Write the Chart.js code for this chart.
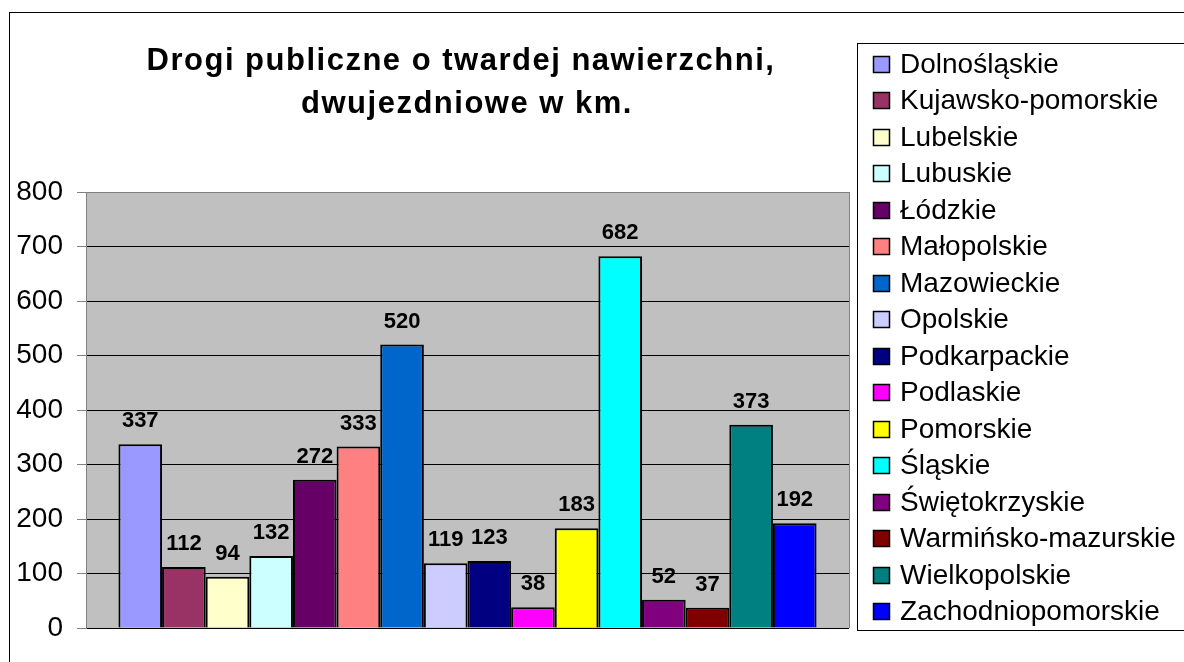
<!DOCTYPE html>
<html>
<head>
<meta charset="utf-8">
<script src="https://cdn.jsdelivr.net/npm/chart.js@4.4.0/dist/chart.umd.min.js"></script>
<style>
  html, body { margin: 0; padding: 0; background: #fff; overflow: hidden; }
  #wrap { position: absolute; left: 0; top: 0; width: 1184px; height: 662px; }
</style>
</head>
<body>
<div id="wrap"><canvas id="chart" width="1184" height="662"></canvas></div>
<script>
// dane z wykresu
const titleLines = ['Drogi publiczne o twardej nawierzchni,', 'dwujezdniowe w km.'];
const regions = ['Dolnośląskie', 'Kujawsko-pomorskie', 'Lubelskie', 'Lubuskie', 'Łódzkie', 'Małopolskie',
  'Mazowieckie', 'Opolskie', 'Podkarpackie', 'Podlaskie', 'Pomorskie', 'Śląskie', 'Świętokrzyskie',
  'Warmińsko-mazurskie', 'Wielkopolskie', 'Zachodniopomorskie'];
const values = [337, 112, 94, 132, 272, 333, 520, 119, 123, 38, 183, 682, 52, 37, 373, 192];
const colors = ['#9999FF', '#993366', '#FFFFCC', '#CCFFFF', '#660066', '#FF8080', '#0066CC', '#CCCCFF',
  '#000080', '#FF00FF', '#FFFF00', '#00FFFF', '#800080', '#800000', '#008080', '#0000FF'];
const yMin = 0, yMax = 800, yStep = 100;

const FONT = "'Liberation Sans', Arial, sans-serif";

// tło obszaru wykresu + ramki
const frame = {
  id: 'frame',
  beforeDraw(chart) {
    const {ctx, chartArea: a} = chart;
    ctx.save();
    ctx.fillStyle = '#C0C0C0';
    ctx.fillRect(a.left, a.top, a.right - a.left, a.bottom - a.top);
    ctx.restore();
  },
  afterDraw(chart) {
    const {ctx, chartArea: a} = chart;
    ctx.save();
    // prawa krawędź obszaru wykresu
    ctx.strokeStyle = '#808080';
    ctx.lineWidth = 1;
    ctx.beginPath();
    ctx.moveTo(Math.round(a.right) + 0.5, a.top);
    ctx.lineTo(Math.round(a.right) + 0.5, a.bottom);
    ctx.stroke();
    // ramka całego wykresu
    ctx.strokeStyle = '#000';
    ctx.strokeRect(9.5, 12.5, 1300, 800);

    // tytuł
    ctx.fillStyle = '#000';
    ctx.font = 'bold 31px ' + FONT;
    ctx.letterSpacing = '1.5px';
    ctx.textAlign = 'center';
    ctx.textBaseline = 'alphabetic';
    ctx.fillText(titleLines[0], 461, 70);
    ctx.fillText(titleLines[1], 467, 113);
    ctx.letterSpacing = '0px';

    // legenda
    ctx.strokeStyle = '#000';
    ctx.strokeRect(857.5, 43.5, 400, 587);
    ctx.font = '28px ' + FONT;
    ctx.textAlign = 'left';
    chart.data.datasets.forEach((ds, i) => {
      const base = 73 + i * 36.47;
      const sy = Math.round(base - 16);
      ctx.fillStyle = ds.backgroundColor;
      ctx.fillRect(874, sy, 15, 15);
      ctx.strokeStyle = '#000';
      ctx.lineWidth = 1.5;
      ctx.strokeRect(873.5, sy - 0.5, 16, 16);
      ctx.fillStyle = '#000';
      ctx.fillText(ds.label, 900, base);
    });
    ctx.restore();
  },
  afterDatasetsDraw(chart) {
    // etykiety wartości nad słupkami
    const ctx = chart.ctx;
    ctx.save();
    ctx.fillStyle = '#000';
    ctx.font = 'bold 22px ' + FONT;
    ctx.textAlign = 'center';
    ctx.textBaseline = 'middle';
    chart.data.datasets.forEach((ds, i) => {
      const el = chart.getDatasetMeta(i).data[0];
      ctx.fillText(String(ds.data[0]), el.x, el.y - 23);
    });
    ctx.restore();
  }
};

new Chart(document.getElementById('chart'), {
  type: 'bar',
  data: {
    labels: [''],
    datasets: regions.map((r, i) => ({
      label: r,
      data: [values[i]],
      backgroundColor: colors[i],
      borderColor: '#000',
      borderWidth: 2,
      borderSkipped: 'bottom',
      barPercentage: 1,
      categoryPercentage: 0.915
    }))
  },
  options: {
    responsive: false,
    animation: false,
    devicePixelRatio: 1,
    layout: { padding: { left: 0, top: 192, right: 335, bottom: 34 } },
    plugins: {
      legend: { display: false },
      title: { display: false },
      tooltip: { enabled: false }
    },
    scales: {
      x: { display: false },
      y: {
        min: yMin,
        max: yMax,
        afterFit: (scale) => { scale.width = 86; },
        ticks: {
          stepSize: yStep,
          color: '#000',
          padding: 14,
          font: { family: FONT, size: 28 }
        },
        grid: {
          color: (c) => (c.tick && c.tick.value === yMax ? '#808080' : '#000'),
          lineWidth: 1,
          tickLength: 9,
          tickColor: '#808080'
        },
        border: { color: '#808080', width: 1 }
      }
    }
  },
  plugins: [frame]
});
</script>
</body>
</html>
